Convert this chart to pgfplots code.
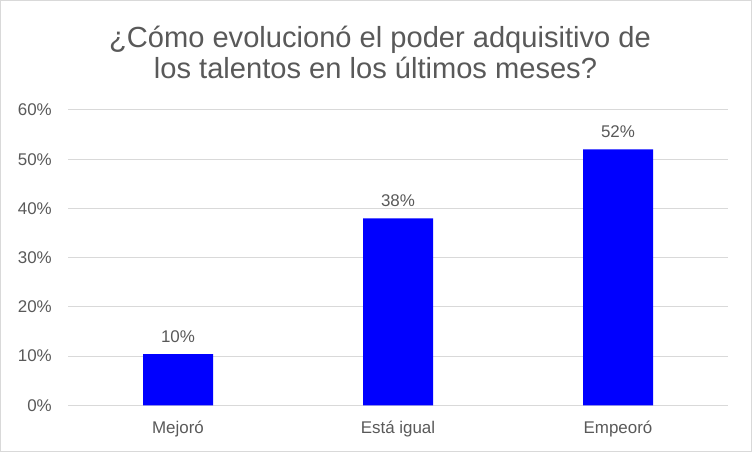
\documentclass[border=0pt]{standalone}
\usepackage{pgfplots}
\pgfplotsset{compat=1.18}
\usepackage{fontspec}
\setmainfont{Liberation Sans}
\definecolor{txtgray}{HTML}{595959}
\definecolor{gridgray}{HTML}{D9D9D9}
\definecolor{barblue}{HTML}{0000FF}
\begin{document}
\begin{tikzpicture}[x=1bp,y=1bp]
\draw[gridgray, line width=1bp] (0.5,0.5) rectangle (751.5,451.5);
\node[txtgray, anchor=base, inner sep=0pt, font=\fontsize{29.2}{32}\selectfont] at (380,404.7) {¿Cómo evolucionó el poder adquisitivo de};
\node[txtgray, anchor=base, inner sep=0pt, font=\fontsize{29.2}{32}\selectfont] at (375.5,373.7) {los talentos en los últimos meses?};
\begin{axis}[
  at={(68bp,46.7bp)}, anchor=south west,
  scale only axis, width=660bp, height=295.3bp,
  xmin=-0.5, xmax=2.5, ymin=0, ymax=0.6,
  axis line style={draw=none},
  ytick={0,0.1,0.2,0.3,0.4,0.5,0.6},
  yticklabels={0\%,10\%,20\%,30\%,40\%,50\%,60\%},
  xtick={0,1,2},
  xticklabels={Mejoró,Está igual,Empeoró},
  major tick length=0pt,
  xmajorgrids=false,
  ymajorgrids=true, major grid style={draw=gridgray, line width=1bp},
  yticklabel style={text=txtgray, font=\fontsize{17}{20}\selectfont, inner sep=0pt, anchor=east, xshift=-16bp},
  xticklabel style={text=txtgray, font=\fontsize{17}{20}\selectfont, inner sep=0pt, anchor=base, yshift=-28.7bp},
  /pgf/number format/assume math mode=true,
  clip=false,
]
\addplot[ybar, bar width=70bp, fill=barblue, draw=none,
  nodes near coords={\pgfmathprintnumber[fixed,precision=0]{\pgfplotspointmeta}\%},
  point meta=explicit,
  every node near coord/.append style={text=txtgray, font=\fontsize{17}{20}\selectfont, inner sep=0pt, anchor=south, text depth=0pt, yshift=11.5bp}
] table[meta=m] {
x y m
0 0.104 10
1 0.38 38
2 0.52 52
};
\end{axis}
\end{tikzpicture}
\end{document}
